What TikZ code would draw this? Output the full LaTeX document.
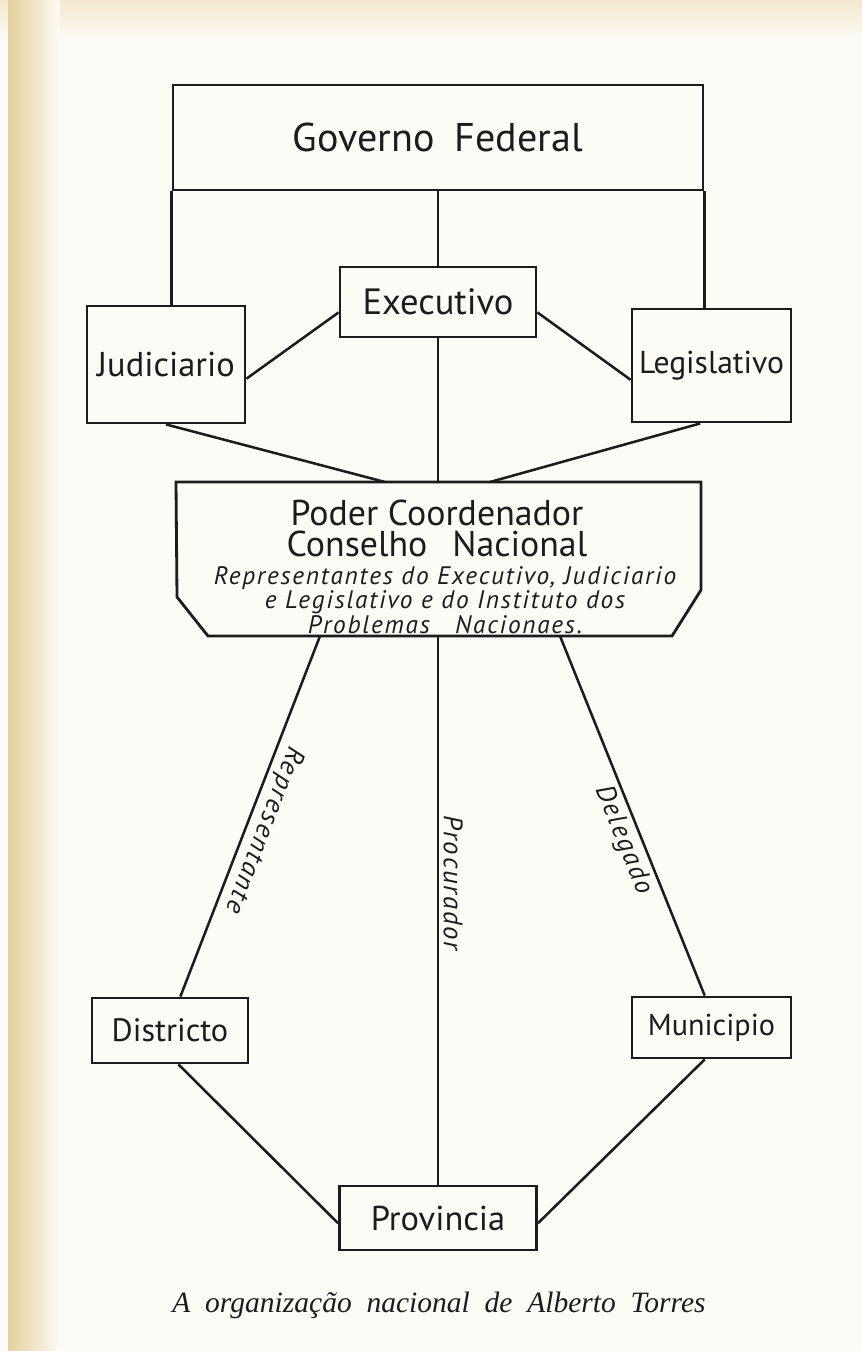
\documentclass[tikz,border=0pt]{standalone}
\usepackage{xcolor}
\usepackage{fontspec}
\setmainfont{Liberation Serif}
\newfontfamily\letterfont{PT Sans}
\newfontfamily\slantfont{PT Sans}[LetterSpace=7]
\usetikzlibrary{calc}

\definecolor{paper}{RGB}{252,251,246}
\definecolor{stain}{RGB}{228,208,156}
\definecolor{ink}{RGB}{28,28,28}

\begin{document}
\begin{tikzpicture}[x=0.025cm, y=-0.025cm,
    box/.style={draw=ink, line width=2pt, inner sep=0pt, text=ink,
        font=\letterfont\fontsize{24.5}{27}\selectfont},
    link/.style={draw=ink, line width=1.8pt},
    roadlabel/.style={text=ink, sloped, allow upside down, inner sep=3pt,
        font=\slantfont\itshape\fontsize{19}{20}\selectfont}]
    % paper
    \fill[paper] (0,0) rectangle (862,1351);
    \shade[top color=stain!45!paper, bottom color=paper] (0,0) rectangle (862,40);
    \shade[left color=stain, right color=paper] (8,0) rectangle (60,1351);
    \useasboundingbox (0,0) rectangle (862,1351);

    % boxes
    \node[box, minimum width=13.25cm, minimum height=2.625cm,
        font=\letterfont\fontsize{28.5}{30}\selectfont] (gov) at (438,137.5) {Governo\hspace{0.5em}Federal};
    \node[box, minimum width=4.9cm, minimum height=1.75cm, font=\letterfont\fontsize{26}{28}\selectfont] (exe) at (438,302) {Executivo};
    \node[box, minimum width=3.95cm, minimum height=2.925cm] (jud) at (166,364.5) {Judiciario};
    \node[box, minimum width=3.975cm, minimum height=2.825cm, font=\letterfont\fontsize{22.5}{26}\selectfont] (leg) at (711.5,365.5) {Legislativo};
    \node[box, minimum width=3.9cm, minimum height=1.625cm, font=\letterfont\fontsize{23}{26}\selectfont] (dis) at (170,1030.5) {Districto};
    \node[box, minimum width=3.975cm, minimum height=1.525cm, font=\letterfont\fontsize{21.5}{26}\selectfont] (mun) at (711.5,1027.5) {Municipio};
    \node[box, minimum width=4.925cm, minimum height=1.6cm] (pro) at (438,1218) {Provincia};

    % poder coordenador
    \draw[link, line width=2pt] (176,482) -- (701,482) -- (701,590) -- (672,636)
        -- (208,636) -- (177,597) -- cycle;
    \coordinate (podjud) at (385,482);
    \coordinate (podexe) at (438,482);
    \coordinate (podleg) at (490,482);
    \coordinate (podrep) at (320,636);
    \coordinate (podpro) at (438,636);
    \coordinate (poddel) at (560,636);
    \node[text=ink, align=center, font=\letterfont\fontsize{25.5}{22}\selectfont] (podtit) at (437,528)
        {Poder Coordenador\\Conselho\hspace{0.7em}Nacional};
    \node[text=ink, align=center, font=\slantfont\itshape\fontsize{18}{16}\selectfont] (podtxt) at (445,600)
        {Representantes do Executivo, Judiciario\\e Legislativo e do Instituto dos\\Problemas\hspace{1em}Nacionaes.};

    % connectors
    \draw[link] (gov.south west) -- (gov.south west |- jud.north);
    \draw[link] (gov.south east) -- (gov.south east |- leg.north);
    \draw[link] (gov.south) -- (exe.north);
    \draw[link] (jud.-10) -- (exe.186);
    \draw[link] (exe.-6) -- (leg.190);
    \draw[link] (jud.south) -- (podjud);
    \draw[link] (exe.south) -- (podexe);
    \draw[link] (leg.-101) -- (podleg);
    \draw[link] (podrep) -- (dis.73) node[roadlabel, above, pos=0.52] {Representante};
    \draw[link] (podpro) -- (pro.north) node[roadlabel, above, pos=0.45] {Procurador};
    \draw[link] (poddel) -- (mun.102) node[roadlabel, below, pos=0.55] {Delegado};
    \draw[link] (dis.-76) -- (pro.183.5);
    \draw[link] (mun.-102) -- (pro.-3.5);

    % caption
    \node[text=ink, font=\itshape\fontsize{21}{22}\selectfont] (cap) at (439,1305)
        {A\hspace{0.5em}organização\hspace{0.5em}nacional\hspace{0.5em}de\hspace{0.5em}Alberto\hspace{0.5em}Torres};
\end{tikzpicture}
\end{document}
